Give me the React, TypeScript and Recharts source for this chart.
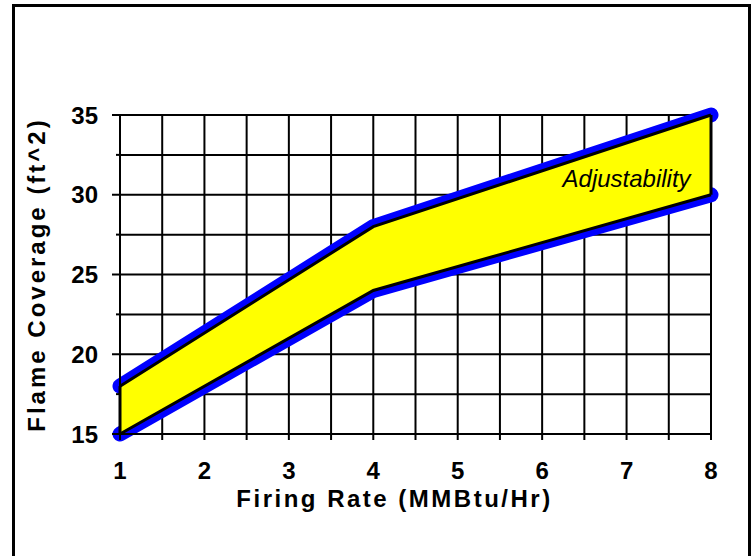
import React from 'react';
import {
  ComposedChart, Area, Line, XAxis, YAxis, CartesianGrid, ReferenceLine, ReferenceDot, Label,
} from 'recharts';

// firing rate (MMBtu/Hr)
const firingRate = [1, 4, 8];
// flame coverage band (ft^2)
const coverageLow = [15, 24, 30];
const coverageHigh = [18, 28, 35];

const xTicks = [1, 1.5, 2, 2.5, 3, 3.5, 4, 4.5, 5, 5.5, 6, 6.5, 7, 7.5, 8];
const yTicks = [15, 17.5, 20, 22.5, 25, 27.5, 30, 32.5, 35];

const bandLabel = { x: 7, y: 31, text: 'Adjustability' };

const data = firingRate.map((x, i) => ({
  x,
  low: coverageLow[i],
  high: coverageHigh[i],
  band: [coverageLow[i], coverageHigh[i]],
}));

const FONT = '"Liberation Sans", Arial, Helvetica, sans-serif';
const last = firingRate.length - 1;

const Y_TICK_GAP = 22; // from axis line to the end of the tick text

// y ticks: long mark on labelled values, short mark between them
const YTick = (props: any) => {
  const { x, y, payload } = props;
  const axisX = x + Y_TICK_GAP;
  const major = payload.value % 5 === 0;
  return (
    <g>
      <line x1={axisX - (major ? 8 : 4)} y1={y} x2={axisX} y2={y} stroke="#000" strokeWidth={2} />
      {major && (
        <text x={x} y={y} textAnchor="end" dominantBaseline="central" fontSize={24} fontWeight="bold" fontFamily={FONT} fill="#000">
          {payload.value}
        </text>
      )}
    </g>
  );
};

const App = () => {
  return (
    <div style={{ position: 'absolute', left: 0, top: 0, width: 756, height: 556, background: '#fff', overflow: 'hidden' }}>
      <div
        style={{
          position: 'absolute',
          left: 12,
          top: 4,
          width: 733,
          height: 600,
          border: '3px solid #000',
        }}
      />
      <ComposedChart
        width={756}
        height={556}
        data={data}
        margin={{ top: 115, right: 45, bottom: 62, left: 60 }}
        style={{ position: 'absolute', left: 0, top: 0, fontFamily: FONT }}
      >
        <CartesianGrid stroke="#000" strokeWidth={2} strokeOpacity={1} />
        <XAxis
          dataKey="x"
          type="number"
          domain={[1, 8]}
          ticks={xTicks}
          interval={0}
          height={60}
          axisLine={{ stroke: '#000', strokeWidth: 2 }}
          tickLine={{ stroke: '#000', strokeWidth: 2 }}
          tickSize={6}
          tickMargin={22}
          tick={{ fill: '#000', fontSize: 24, fontWeight: 'bold', fontFamily: FONT }}
          tickFormatter={(v) => (Number.isInteger(v) ? String(v) : '')}
        >
          <Label
            content={({ viewBox }: any) => (
              <text
                x={viewBox.x + viewBox.width / 2 - 21}
                y={507}
                textAnchor="middle"
                fontSize={24}
                fontWeight="bold"
                fontFamily={FONT}
                letterSpacing={2.5}
                fill="#000"
              >
                Firing Rate (MMBtu/Hr)
              </text>
            )}
          />
        </XAxis>
        <YAxis
          type="number"
          domain={[15, 35]}
          ticks={yTicks}
          interval={0}
          width={60}
          axisLine={{ stroke: '#000', strokeWidth: 2 }}
          tickLine={false}
          tickSize={6}
          tickMargin={16}
          tick={<YTick />}
        >
          <Label
            content={({ viewBox }: any) => {
              const cy = viewBox.y + viewBox.height / 2;
              return (
                <text
                  x={45}
                  y={cy}
                  transform={`rotate(-90 45 ${cy})`}
                  textAnchor="middle"
                  fontSize={24}
                  fontWeight="bold"
                  fontFamily={FONT}
                  letterSpacing={3}
                  fill="#000"
                >
                  Flame Coverage (ft^2)
                </text>
              );
            }}
          />
        </YAxis>
        <Line
          dataKey="high"
          type="linear"
          stroke="#0000ff"
          strokeWidth={15}
          strokeLinecap="round"
          strokeLinejoin="round"
          dot={false}
          activeDot={false}
          isAnimationActive={false}
          zIndex={50}
        />
        <Line
          dataKey="low"
          type="linear"
          stroke="#0000ff"
          strokeWidth={15}
          strokeLinecap="round"
          strokeLinejoin="round"
          dot={false}
          activeDot={false}
          isAnimationActive={false}
          zIndex={50}
        />
        <Area
          dataKey="band"
          type="linear"
          fill="#ffff00"
          fillOpacity={1}
          stroke="#000"
          strokeWidth={3}
          dot={false}
          activeDot={false}
          isAnimationActive={false}
        />
        <ReferenceLine
          segment={[{ x: firingRate[0], y: coverageLow[0] }, { x: firingRate[0], y: coverageHigh[0] }]}
          stroke="#000"
          strokeWidth={3}
        />
        <ReferenceLine
          segment={[{ x: firingRate[last], y: coverageLow[last] }, { x: firingRate[last], y: coverageHigh[last] }]}
          stroke="#000"
          strokeWidth={3}
        />
        <ReferenceDot
          x={bandLabel.x}
          y={bandLabel.y}
          r={0}
          fill="none"
          stroke="none"
          label={({ viewBox }: any) => (
            <text
              x={viewBox.x + (viewBox.width || 0) / 2}
              y={viewBox.y + (viewBox.height || 0) / 2}
              textAnchor="middle"
              dominantBaseline="central"
              fontSize={24}
              fontStyle="italic"
              fontFamily={FONT}
              fill="#000"
            >
              {bandLabel.text}
            </text>
          )}
        />
      </ComposedChart>
    </div>
  );
};

export default App;
